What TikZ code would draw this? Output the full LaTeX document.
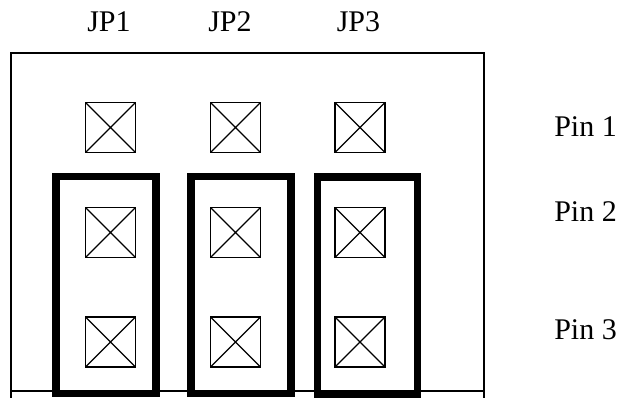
\documentclass[tikz,border=0pt]{standalone}
\usepackage{fontspec}
\setmainfont{Liberation Serif}
\begin{document}
\begin{tikzpicture}[x=0.75pt,y=-0.75pt,
  pinbox/.style={draw, line width=1.3pt, inner sep=0pt, minimum size=37.5pt,
    path picture={\draw[line width=1.05pt] (path picture bounding box.north west) -- (path picture bounding box.south east)
      (path picture bounding box.north east) -- (path picture bounding box.south west);}},
  jumper/.style={draw, line width=5.4pt, miter limit=10, inner sep=0pt, minimum width=75pt, minimum height=162.75pt},
  lbl/.style={inner sep=0pt, font=\fontsize{22.5pt}{27pt}\selectfont},
  board/.style={line width=1.2pt}]
\useasboundingbox (0,0) rectangle (621,398);
% board outline
\coordinate (bl) at (11,402);
\coordinate (tl) at (11,53);
\coordinate (tr) at (484,53);
\coordinate (br) at (484,402);
\coordinate (el) at (11,391);
\coordinate (er) at (484,391);
\draw[board] (bl) -- (tl) -- (tr) -- (br);
\draw[board] (el) -- (er);
% jumpers
\node[jumper] (j1) at (106,285) {};
\node[jumper] (j2) at (241,285) {};
\node[jumper] (j3) at (367.5,285.5) {};
% pins
\foreach \c/\x in {1/110.5,2/235.5,3/360}{
  \node[pinbox] (p1\c) at (\x,127.5) {};
  \node[pinbox] (p2\c) at (\x,232.5) {};
  \node[pinbox] (p3\c) at (\x,342) {};
}
% labels
\node[lbl, anchor=base] (jp1) at (109,32) {JP1};
\node[lbl, anchor=base] (jp2) at (230,32) {JP2};
\node[lbl, anchor=base] (jp3) at (358.5,32) {JP3};
\node[lbl, anchor=base west] (pin1) at (554,137) {Pin 1};
\node[lbl, anchor=base west] (pin2) at (554,222) {Pin 2};
\node[lbl, anchor=base west] (pin3) at (554,340) {Pin 3};
\end{tikzpicture}
\end{document}
